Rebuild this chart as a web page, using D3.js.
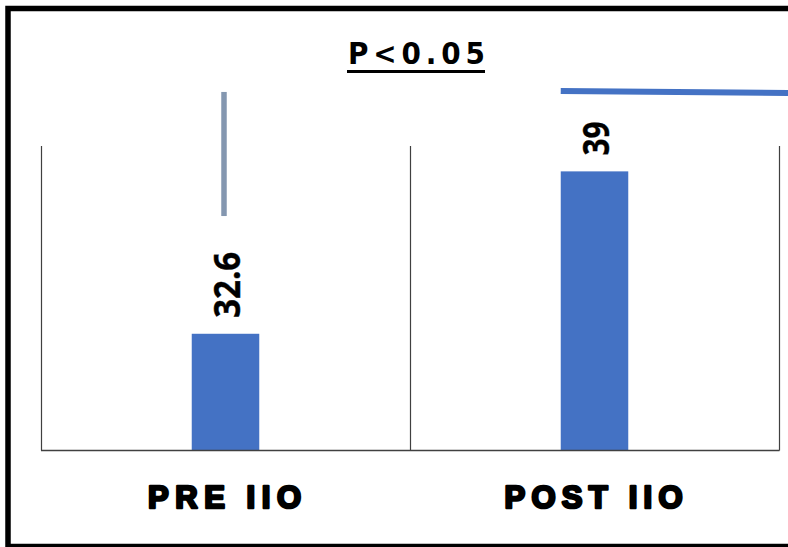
<!DOCTYPE html>
<html>
<head>
<meta charset="utf-8">
<script src="https://cdn.jsdelivr.net/npm/d3@7"></script>
<style>
  html, body { margin: 0; padding: 0; background: #ffffff; }
  svg { display: block; }
</style>
</head>
<body>
<svg id="chart" width="788" height="547"></svg>
<script>
// ---- data ----
const categories = ["PRE IIO", "POST IIO"];
const values = [32.6, 39];
const valueLabels = ["32.6", "39"];
const titleText = "P<0.05";
const yDomain = [28, 40];

// ---- layout ----
const W = 788, H = 547;
const plot = { left: 41, right: 779, top: 146, bottom: 450.5 };
const barColor = "#4472C4";
const axisColor = "#404040";

const svg = d3.select("#chart");

// outer frame
svg.append("rect")
  .attr("x", 8).attr("y", 8.5)
  .attr("width", 800).attr("height", 538)
  .attr("fill", "none").attr("stroke", "#000").attr("stroke-width", 5.5);

const x = d3.scaleBand()
  .domain(categories)
  .range([plot.left, plot.right])
  .paddingInner(0.817)
  .paddingOuter(0.4085);

const y = d3.scaleLinear().domain(yDomain).range([plot.bottom, plot.top]);

// category separators (vertical lines)
const step = x.step();
const seps = [plot.left, plot.left + step, plot.right];
svg.selectAll("line.sep").data(seps).enter().append("line")
  .attr("class", "sep")
  .attr("x1", d => Math.round(d) + 0.5).attr("x2", d => Math.round(d) + 0.5)
  .attr("y1", plot.top).attr("y2", plot.bottom)
  .attr("stroke", axisColor).attr("stroke-width", 1.2);

// bars
svg.selectAll("rect.bar").data(values).enter().append("rect")
  .attr("class", "bar")
  .attr("x", (d, i) => x(categories[i]))
  .attr("width", x.bandwidth())
  .attr("y", d => y(d))
  .attr("height", d => y(yDomain[0]) - y(d))
  .attr("fill", barColor);

// baseline
svg.append("line")
  .attr("x1", plot.left).attr("x2", plot.right + 0.5)
  .attr("y1", plot.bottom).attr("y2", plot.bottom)
  .attr("stroke", axisColor).attr("stroke-width", 1.3);

// value labels (rotated)
svg.selectAll("text.val").data(values).enter().append("text")
  .attr("class", "val")
  .attr("transform", (d, i) => {
    const cx = x(categories[i]) + x.bandwidth() / 2 + 14;
    const cy = y(d) - 16;
    return `translate(${cx},${cy}) rotate(-90)`;
  })
  .attr("text-anchor", "start")
  .attr("font-family", "'Open Sans', 'Liberation Sans', sans-serif")
  .attr("font-weight", 700)
  .attr("font-size", 36)
  .attr("textLength", (d, i) => valueLabels[i].length === 4 ? 66 : 34)
  .attr("lengthAdjust", "spacingAndGlyphs")
  .attr("fill", "#000")
  .attr("stroke", "#000")
  .attr("stroke-width", 0.4)
  .text((d, i) => valueLabels[i]);

// category labels
const catWidths = [153, 178];
svg.selectAll("text.cat").data(categories).enter().append("text")
  .attr("class", "cat")
  .attr("x", d => x(d) + x.bandwidth() / 2 - 1)
  .attr("y", 508)
  .attr("text-anchor", "middle")
  .attr("font-family", "'Liberation Sans', Arial, sans-serif")
  .attr("font-weight", 700)
  .attr("font-size", 31)
  .attr("textLength", (d, i) => catWidths[i])
  .attr("lengthAdjust", "spacing")
  .attr("fill", "#000")
  .attr("stroke", "#000")
  .attr("stroke-width", 2.6)
  .attr("stroke-linejoin", "round")
  .text(d => d);

// title
svg.append("text")
  .attr("x", 348).attr("y", 64)
  .attr("text-anchor", "start")
  .attr("font-family", "'DejaVu Sans Condensed', 'DejaVu Sans', sans-serif")
  .attr("font-stretch", "condensed")
  .attr("font-weight", 700)
  .attr("font-size", 31)
  .attr("textLength", 137)
  .attr("lengthAdjust", "spacing")
  .attr("fill", "#000")
  .text(titleText);
svg.append("line")
  .attr("x1", 347).attr("x2", 485)
  .attr("y1", 71.5).attr("y2", 71.5)
  .attr("stroke", "#000").attr("stroke-width", 3);

// annotation strokes
const preCx = x(categories[0]) + x.bandwidth() / 2;
svg.append("line")
  .attr("x1", preCx - 1.5).attr("x2", preCx - 1.5)
  .attr("y1", y(42.13)).attr("y2", y(37.24))
  .attr("stroke", "#8497B0").attr("stroke-width", 5.5);

svg.append("line")
  .attr("x1", x(categories[1])).attr("x2", W + 2)
  .attr("y1", y(42.17)).attr("y2", y(42.09))
  .attr("stroke", barColor).attr("stroke-width", 6);
</script>
</body>
</html>
